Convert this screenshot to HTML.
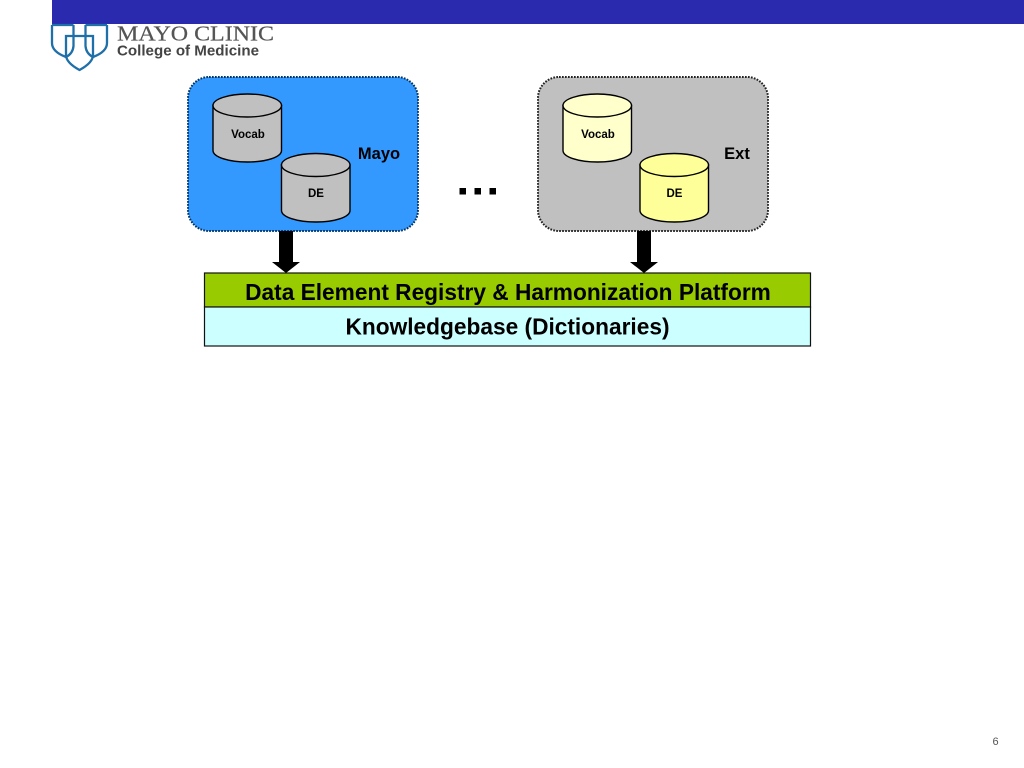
<!DOCTYPE html>
<html>
<head>
<meta charset="utf-8">
<style>
html,body{margin:0;padding:0;background:#fff;width:1024px;height:768px;overflow:hidden}
svg{display:block}
text{font-family:"Liberation Sans",sans-serif}
</style>
</head>
<body>
<svg width="1024" height="768" viewBox="0 0 1024 768" xmlns="http://www.w3.org/2000/svg">
<rect x="52" y="0" width="972" height="24" fill="#2a2aae"/>
<!-- logo -->
<g fill="none" stroke="#1f6fa8" stroke-width="2.300">
<path d="M52 25V43C52 50 58 54 66 57"/>
<path d="M107 25V43C107 50 101 54 93 57"/>
<path d="M66 36H93V55C93 62 85 67 79.500 70C74 67 66 62 66 55Z"/>
<path d="M73.500 25V46C73 52 70 55 66 57"/>
<path d="M85.500 25V46C86 52 89 55 93 57"/>
<path d="M52 25H73.500M85.500 25H107"/>
</g>
<text x="117" y="40.500" font-size="21.500" fill="#555" stroke="#555" stroke-width="0.200" textLength="157" lengthAdjust="spacingAndGlyphs" style="font-family:'Liberation Serif',serif">MAYO CLINIC</text>
<text x="117" y="55.500" font-size="15" font-weight="bold" fill="#444" textLength="142" lengthAdjust="spacingAndGlyphs">College of Medicine</text>

<!-- groups -->
<rect x="188" y="77" width="230" height="154" rx="21" fill="#3399ff" stroke="#003366" stroke-width="2" stroke-dasharray="1.700 1.300"/>
<rect x="538" y="77" width="230" height="154" rx="21" fill="#c0c0c0" stroke="#222" stroke-width="2" stroke-dasharray="1.700 1.300"/>

<!-- cylinders -->
<g stroke="#000" stroke-width="1.400">
<path d="M213 105.500V150.500C213 157 228.500 162 247.500 162S281.500 157 281.500 150.500V105.500Z" fill="#c0c0c0"/>
<ellipse cx="247.250" cy="105.500" rx="34.250" ry="11.500" fill="#c0c0c0"/>
<path d="M281.500 165V210.500C281.500 217 297 222 316 222S350 217 350 210.500V165Z" fill="#c0c0c0"/>
<ellipse cx="315.750" cy="165" rx="34.250" ry="11.500" fill="#c0c0c0"/>
<path d="M563 105.500V150.500C563 157 578.500 162 597.500 162S631.500 157 631.500 150.500V105.500Z" fill="#ffffcc"/>
<ellipse cx="597.250" cy="105.500" rx="34.250" ry="11.500" fill="#ffffcc"/>
<path d="M640 165V210.500C640 217 655.500 222 674.500 222S708.500 217 708.500 210.500V165Z" fill="#ffff99"/>
<ellipse cx="674.250" cy="165" rx="34.250" ry="11.500" fill="#ffff99"/>
</g>
<g font-size="11.500" font-weight="bold" fill="#000" text-anchor="middle">
<text x="248" y="138">Vocab</text>
<text x="316" y="197">DE</text>
<text x="598" y="138">Vocab</text>
<text x="674.500" y="197">DE</text>
</g>
<text x="379" y="159" font-size="16.500" font-weight="bold" fill="#000" text-anchor="middle">Mayo</text>
<text x="737" y="159" font-size="16.500" font-weight="bold" fill="#000" text-anchor="middle">Ext</text>

<!-- dots -->
<rect x="459.500" y="188" width="6.500" height="6.500" fill="#000"/>
<rect x="474.500" y="188" width="6.500" height="6.500" fill="#000"/>
<rect x="489.500" y="188" width="6.500" height="6.500" fill="#000"/>

<!-- arrows -->
<path d="M279 231H293V262H300L286 273L272 262H279Z" fill="#000"/>
<path d="M637 231H651V262H658L644 273L630 262H637Z" fill="#000"/>

<!-- platform -->
<rect x="204.500" y="273" width="606" height="34" fill="#99cc00" stroke="#111" stroke-width="1.200"/>
<rect x="204.500" y="307" width="606" height="39" fill="#ccffff" stroke="#111" stroke-width="1.200"/>
<text x="508" y="300" font-size="22.700" font-weight="bold" fill="#000" text-anchor="middle">Data Element Registry &amp; Harmonization Platform</text>
<text x="507.500" y="334.500" font-size="22.700" font-weight="bold" fill="#000" text-anchor="middle">Knowledgebase (Dictionaries)</text>

<text x="995.500" y="745" font-size="11" fill="#555" text-anchor="middle">6</text>
</svg>
</body>
</html>
